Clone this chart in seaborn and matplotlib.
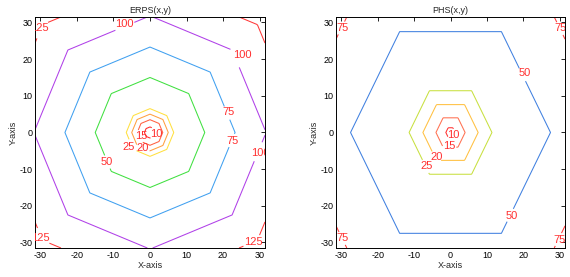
import numpy as np
import seaborn as sns
import matplotlib
matplotlib.use("Agg")
import matplotlib.pyplot as plt

# -------- DATA --------
# contour levels, the radius (in the polygon norm) where each one sits, and colours
erps_levels = [10, 15, 20, 25, 50, 75, 100, 125]
erps_radii = [1.5, 3.5, 5.0, 6.5, 15.0, 23.3, 31.8, 41.6]
erps_colors = ["#ff2a2a", "#ff6040", "#ffa040", "#ffe040", "#40e040", "#40a0f0", "#b040e8", "#ff3838"]
erps_center = 5
erps_far = (55, 160)

phs_levels = [10, 15, 20, 25, 50, 75]
phs_radii = [1.3, 4.0, 7.6, 11.4, 27.5, 44.0]
phs_colors = ["#ff3030", "#ff7050", "#ffc040", "#c8e040", "#4080e0", "#ff3838"]
phs_center = 8
phs_far = (60, 100)

ticks = [-30, -20, -10, 0, 10, 20, 30]

# label spots (placement only)
erps_label_pos = [(-7.1, 29.5), (25.2, 21.1), (30.2, -5.5), (21.6, 5.5), (22.7, -2.3),
                  (-11.8, -8.1), (-30.2, 28.4), (-30.1, -28.8), (28.2, -29.9),
                  (-5.8, -4.0), (-1.9, -4.1), (-2.4, -0.9), (1.8, -0.3)]
phs_label_pos = [(-29.8, 28.4), (30.2, 28.4), (-29.6, -28.8), (29.9, -29.3), (20.5, 16.1),
                 (16.9, -22.8), (-6.5, -9.1), (-3.7, -6.7), (-0.4, -3.7), (0.8, -0.7)]

# -------- FIELDS --------
g = np.linspace(-31.5, 31.5, 253)
X, Y = np.meshgrid(g, g)

# octagon norm (vertices on the axes and diagonals)
angs = np.deg2rad(22.5 + 45 * np.arange(8))
oct_norm = np.max([X * np.cos(a) + Y * np.sin(a) for a in angs], axis=0) / np.cos(np.deg2rad(22.5))
Z_erps = np.interp(oct_norm, [0] + erps_radii + [erps_far[0]], [erps_center] + erps_levels + [erps_far[1]])

# hexagon norm (flat top/bottom)
hex_norm = np.maximum(np.abs(Y), np.abs(X) + 0.491 * np.abs(Y))
Z_phs = np.interp(hex_norm, [0] + phs_radii + [phs_far[0]], [phs_center] + phs_levels + [phs_far[1]])

# -------- PLOT --------
sns.set_theme(style="white")
plt.rcParams["font.family"] = ["Liberation Sans", "DejaVu Sans"]
plt.rcParams["axes.unicode_minus"] = False
plt.rcParams["xtick.direction"] = "in"
plt.rcParams["ytick.direction"] = "in"

fig = plt.figure(figsize=(5.7, 2.77), dpi=100)
ax1 = fig.add_axes([0.0614, 0.1047, 0.4035, 0.834])
ax2 = fig.add_axes([0.5895, 0.1047, 0.4018, 0.834])

panels = [
    (ax1, Z_erps, erps_levels, erps_colors, erps_label_pos, "ERPS(x,y)"),
    (ax2, Z_phs, phs_levels, phs_colors, phs_label_pos, "PHS(x,y)"),
]

for ax, Z, levels, colors, lpos, title in panels:
    cs = ax.contour(X, Y, Z, levels=levels, colors=colors, linewidths=0.75)
    labels = ax.clabel(cs, inline=True, fontsize=8, colors="#ff3030", fmt="%d",
                       manual=lpos, inline_spacing=1)
    for t, p in zip(labels, lpos):
        t.set_rotation(0)
        t.set_position(p)
        t.set_clip_on(True)
    ax.set_xlim(-31.5, 31.5)
    ax.set_ylim(-31.5, 31.5)
    ax.set_xticks(ticks)
    ax.set_yticks(ticks)
    ax.tick_params(axis="both", labelsize=6.5, length=3, width=0.6, pad=2,
                   top=True, right=True, colors="black")
    for s in ax.spines.values():
        s.set_color("black")
        s.set_linewidth(0.7)
    ax.set_title(title, fontsize=6.5, pad=3)
    ax.set_xlabel("X-axis", fontsize=6.5, labelpad=1)
    ax.set_ylabel("Y-axis", fontsize=6.5, labelpad=1)

fig.savefig("out.png", dpi=100)
